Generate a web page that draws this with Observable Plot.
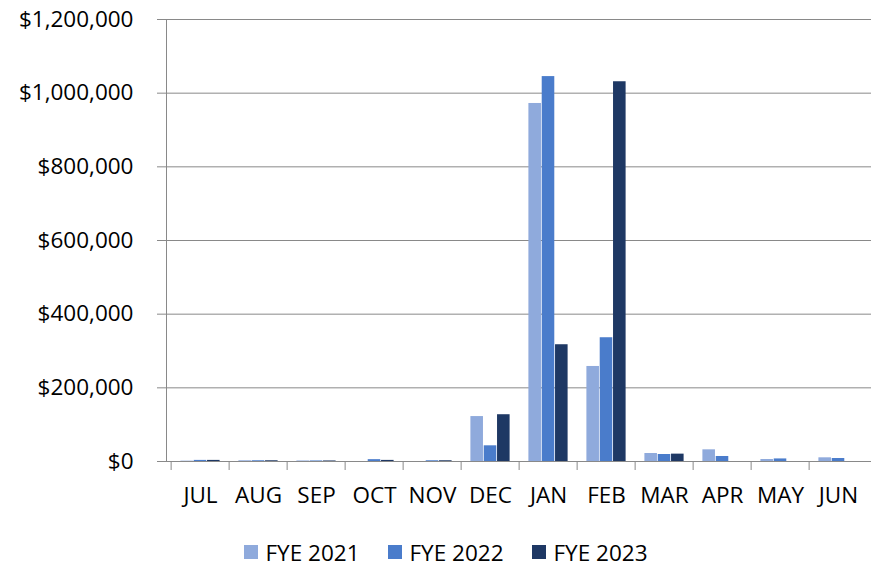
<!DOCTYPE html>
<html>
<head>
<meta charset="utf-8">
<script src="https://cdn.jsdelivr.net/npm/d3@7"></script>
<script src="https://cdn.jsdelivr.net/npm/@observablehq/plot@0.6"></script>
<style>
  body { margin: 0; background: #fff; font-family: "Open Sans", sans-serif; }
  #chart { width: 871px; }
  .legend { display: flex; justify-content: center; align-items: center; height: 36px; padding-top: 4px; padding-left: 20px; font-size: 22.5px; color: #000; }
  .legend .item { display: flex; align-items: center; margin: 0 14px; }
  .legend .sw { width: 14px; height: 14px; margin-right: 8px; }
</style>
</head>
<body>
<div id="chart"></div>
<script>
const months = ["JUL","AUG","SEP","OCT","NOV","DEC","JAN","FEB","MAR","APR","MAY","JUN"];
const seriesNames = ["FYE 2021","FYE 2022","FYE 2023"];
const fye2021 = [1000, 2000, 1500, 0, 0, 122000, 972000, 258000, 21700, 31700, 5400, 10000];
const fye2022 = [3000, 2000, 1500, 5000, 2000, 42600, 1045000, 336000, 19000, 13600, 7000, 8100];
const fye2023 = [3000, 2000, 1500, 3000, 2000, 127000, 317000, 1031000, 20000, 0, 0, 0];
const yTicks = [0, 200000, 400000, 600000, 800000, 1000000, 1200000];
const colors = ["#8FAADC", "#4A7CCB", "#1E3864"];

const seriesValues = [fye2021, fye2022, fye2023];
const gray = "#898989";

const W = 871, H = 530, mL = 166, mR = 0, mT = 19, mB = H - 461;
const step = (W - mL - mR) / months.length;
const pad = step * 0.16;
const bw = (step - 2 * pad) / 3;

const barMarks = seriesValues.map((vals, i) =>
  Plot.barY(months.map((m, j) => ({month: m, value: vals[j], series: seriesNames[i]})), {
    x: "month", y: "value", fill: colors[i],
    insetLeft: pad + bw * i,
    insetRight: step - pad - bw * (i + 1)
  })
);

const plot = Plot.plot({
  width: W, height: H,
  marginLeft: mL, marginRight: mR, marginTop: mT, marginBottom: mB,
  style: {fontFamily: "Open Sans", fontSize: "22.5px", color: "#000", background: "#fff"},
  x: {domain: months, padding: 0, label: null},
  y: {domain: [0, 1200000], label: null},
  marks: [
    Plot.gridY(yTicks, {stroke: gray, strokeOpacity: 1}),
    ...barMarks,
    Plot.frame({anchor: "left", stroke: gray}),
    Plot.ruleY([0], {stroke: gray}),
    Plot.ruleX(months, {x: d => d, dx: -step / 2, y1: 0, y2: 0, insetBottom: -9, stroke: gray}),
    Plot.axisY(yTicks, {tickSize: 9, tickPadding: 24, stroke: gray, fill: "#000",
      tickFormat: d => "$" + d3.format(",")(d), label: null}),
    Plot.axisX({tickSize: 0, tickPadding: 26, fill: "#000", label: null})
  ]
});
document.getElementById("chart").appendChild(plot);

const legend = document.createElement("div");
legend.className = "legend";
seriesNames.forEach((name, i) => {
  const item = document.createElement("div");
  item.className = "item";
  const sw = document.createElement("span");
  sw.className = "sw";
  sw.style.background = colors[i];
  const t = document.createElement("span");
  t.textContent = name;
  item.appendChild(sw); item.appendChild(t);
  legend.appendChild(item);
});
document.getElementById("chart").appendChild(legend);
</script>
</body>
</html>
